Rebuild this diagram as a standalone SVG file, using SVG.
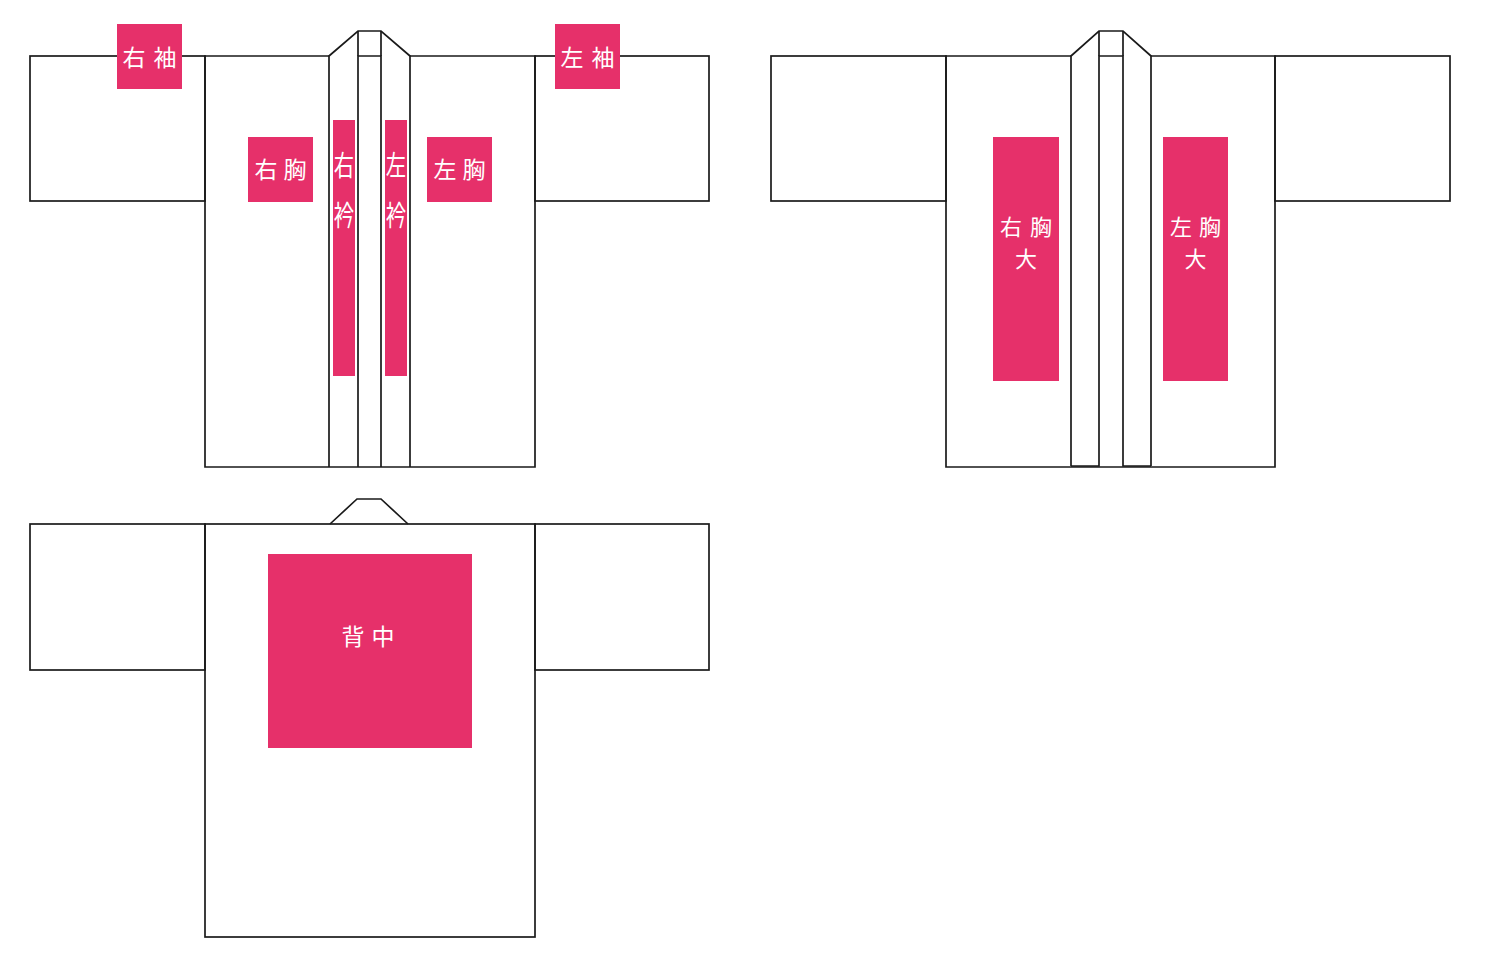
<svg xmlns="http://www.w3.org/2000/svg" width="1500" height="969" viewBox="0 0 1500 969">
<style>
.ln{fill:none;stroke:#1a1a1a;stroke-width:1.7;stroke-linejoin:miter}
.pk{fill:#E6306A}
.tx{fill:#ffffff;font-family:"Noto Sans CJK JP","Noto Sans CJK SC",sans-serif;font-size:23px;font-weight:400;text-anchor:middle}
.tv{font-size:26px}
.ts{font-size:22px}
</style>
<rect width="1500" height="969" fill="#ffffff"/>
<g id="front1">
  <g id="front1-outline">
    <rect class="ln" x="30" y="56" width="175" height="145"/>
    <rect class="ln" x="535" y="56" width="174" height="145"/>
    <path class="ln" d="M329,56 H205 V467 H535 V56 H410"/>
    <path class="ln" d="M329,467 V56 L358,31 H381 L410,56 V467"/>
    <path class="ln" d="M358,467 V56 H381 V467"/>
    <path class="ln" d="M358,56 V31 M381,56 V31"/>
  </g>
  <g id="label-migisode"><rect class="pk" x="117" y="24" width="65" height="65"/><text class="tx" x="134 165" y="66">右袖</text></g>
  <g id="label-hidarisode"><rect class="pk" x="555" y="24" width="65" height="65"/><text class="tx" x="572 603" y="66">左袖</text></g>
  <g id="label-migimune"><rect class="pk" x="248" y="137" width="65" height="65"/><text class="tx" x="266 295" y="178">右胸</text></g>
  <g id="label-hidarimune"><rect class="pk" x="427" y="137" width="65" height="65"/><text class="tx" x="445 474" y="178">左胸</text></g>
  <g id="label-migieri"><rect class="pk" x="333" y="120" width="22" height="256"/>
    <text class="tx tv" transform="translate(344,0) scale(0.78,1.1)" x="0" y="160">右</text>
    <text class="tx tv" transform="translate(344,0) scale(0.78,1.1)" x="0" y="205.5">衿</text></g>
  <g id="label-hidarieri"><rect class="pk" x="385" y="120" width="22" height="256"/>
    <text class="tx tv" transform="translate(396,0) scale(0.78,1.1)" x="0" y="160">左</text>
    <text class="tx tv" transform="translate(396,0) scale(0.78,1.1)" x="0" y="205.5">衿</text></g>
</g>
<g id="front2">
  <g id="front2-outline">
    <rect class="ln" x="771" y="56" width="175" height="145"/>
    <rect class="ln" x="1275" y="56" width="175" height="145"/>
    <path class="ln" d="M1071,56 H946 V467 H1275 V56 H1151"/>
    <path class="ln" d="M1071,466 V56 L1099,31 H1123 L1151,56 V466"/>
    <path class="ln" d="M1071,466 H1099 V56 H1123 V466 H1151"/>
    <path class="ln" d="M1099,56 V31 M1123,56 V31"/>
  </g>
  <g id="label-migimune-dai"><rect class="pk" x="993" y="137" width="66" height="244"/>
    <text class="tx ts" x="1011 1041" y="234.5">右胸</text><text class="tx ts" x="1026" y="266.5">大</text></g>
  <g id="label-hidarimune-dai"><rect class="pk" x="1163" y="137" width="65" height="244"/>
    <text class="tx ts" x="1181 1210" y="234.5">左胸</text><text class="tx ts" x="1195.5" y="266.5">大</text></g>
</g>
<g id="back">
  <g id="back-outline">
    <rect class="ln" x="30" y="524" width="175" height="146"/>
    <rect class="ln" x="535" y="524" width="174" height="146"/>
    <rect class="ln" x="205" y="524" width="330" height="413"/>
    <path class="ln" d="M330,524 L357,499 H381 L408,524"/>
  </g>
  <g id="label-senaka"><rect class="pk" x="268" y="554" width="204" height="194"/>
    <text class="tx" x="353 383" y="645">背中</text></g>
</g>
</svg>
